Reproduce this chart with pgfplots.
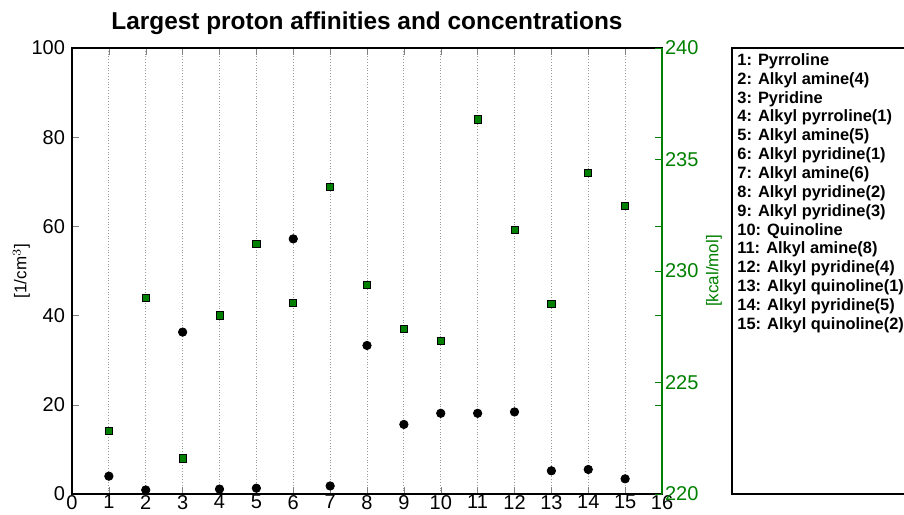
\documentclass[border=0pt]{standalone}
\usepackage{fontspec}
\setmainfont{Liberation Sans}
\usepackage{pgfplots}
\pgfplotsset{compat=1.18}
\definecolor{mgreen}{rgb}{0,0.5,0}
\begin{document}
\begin{tikzpicture}
\useasboundingbox (-36pt,-10pt) rectangle (416pt,247pt);
\begin{axis}[
  at={(0,0)}, anchor=south west,
  scale only axis, width=295pt, height=223pt,
  xmin=0, xmax=16, ymin=0, ymax=100,
  xtick={0,1,...,16}, ytick={0,20,...,100},
  ytick pos=left, xtick pos=both,
  tick align=inside, major tick length=3.5pt,
  axis line style={line width=0.8pt},
  xmajorgrids, grid style={densely dotted, gray!80, line width=0.45pt},
  /pgf/number format/assume math mode=true,
  tick label style={font=\fontsize{10}{12}\selectfont},
  xticklabel style={yshift=3pt},
  ylabel={[1/cm$^3$]}, ylabel style={font=\fontsize{8.5}{10}\selectfont, yshift=-6pt},
  title={\bfseries Largest proton affinities and concentrations},
  title style={font=\fontsize{12.2}{14}\selectfont, yshift=-3pt},
  clip=false,
]
\addplot[only marks, mark=*, mark size=2.1pt, mark options={fill=black, draw=black}] coordinates {
(1,4.0) (2,0.9) (3,36.3) (4,1.1) (5,1.3) (6,57.2) (7,1.8) (8,33.3) (9,15.6) (10,18.1) (11,18.1) (12,18.4) (13,5.2) (14,5.5) (15,3.4)
};
\end{axis}
\begin{axis}[
  at={(0,0)}, anchor=south west,
  scale only axis, width=295pt, height=223pt,
  xmin=0, xmax=16, ymin=220, ymax=240,
  axis x line=none, axis y line*=right,
  ytick={220,225,...,240},
  extra y ticks={224,228,232,236}, extra y tick labels={},
  tick align=inside, major tick length=3.5pt,
  y axis line style={mgreen, line width=0.8pt},
  ytick style={mgreen},
  yticklabel style={mgreen, font=\fontsize{10}{12}\selectfont, xshift=-2pt},
  /pgf/number format/assume math mode=true,
  ylabel={[kcal/mol]}, ylabel style={mgreen, font=\fontsize{8.5}{10}\selectfont, yshift=3pt},
  clip=false,
]
\addplot[only marks, mark=square*, mark size=1.8pt, mark options={fill=mgreen, draw=black, line width=0.4pt}] coordinates {
(1,222.84) (2,228.79) (3,221.60) (4,228.01) (5,231.21) (6,228.58) (7,233.78) (8,229.39) (9,227.41) (10,226.86) (11,236.80) (12,231.84) (13,228.52) (14,234.39) (15,232.91)
};
\end{axis}
\draw[line width=0.7pt] (418pt,223pt) -- (330pt,223pt) -- (330pt,0pt) -- (418pt,0pt);
\node[anchor=north west, align=left, inner sep=0pt, font=\bfseries\fontsize{8.2}{9.43}\selectfont] at (332.5pt,220.5pt) {%
1: Pyrroline\\
2: Alkyl amine(4)\\
3: Pyridine\\
4: Alkyl pyrroline(1)\\
5: Alkyl amine(5)\\
6: Alkyl pyridine(1)\\
7: Alkyl amine(6)\\
8: Alkyl pyridine(2)\\
9: Alkyl pyridine(3)\\
10: Quinoline\\
11: Alkyl amine(8)\\
12: Alkyl pyridine(4)\\
13: Alkyl quinoline(1)\\
14: Alkyl pyridine(5)\\
15: Alkyl quinoline(2)};
\end{tikzpicture}
\end{document}
